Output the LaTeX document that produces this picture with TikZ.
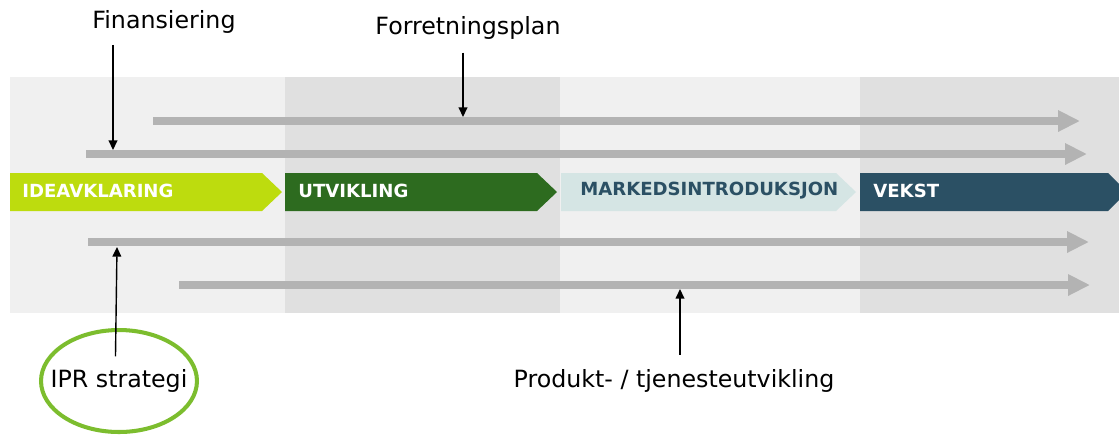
\documentclass[tikz,border=0pt]{standalone}
\usepackage{fontspec}
\setmainfont{DejaVu Sans}
\usetikzlibrary{arrows.meta,shapes.geometric}

\definecolor{bandlys}{HTML}{F0F0F0}
\definecolor{bandmork}{HTML}{E0E0E0}
\definecolor{lime}{HTML}{BDDC0E}
\definecolor{morkgronn}{HTML}{2D6B1F}
\definecolor{lysblaa}{HTML}{D5E5E4}
\definecolor{marine}{HTML}{2B5064}
\definecolor{gralinje}{HTML}{B3B3B3}
\definecolor{ringgronn}{HTML}{7CBD2E}

\begin{document}
\begin{tikzpicture}[x=0.02cm,y=-0.02cm,
  fase/.style={anchor=west,inner sep=0pt,font=\bfseries\fontsize{10.3}{12}\selectfont},
  etikett/.style={font=\fontsize{13.5}{16}\selectfont},
  tidslinje/.style={draw=gralinje,line width=5.1pt,-{Triangle[length=12.5pt,width=11.5pt]}},
  peker/.style={line width=0.8pt,-{Triangle[length=5.5pt,width=5pt]}}]
  \useasboundingbox (0,0) rectangle (1119,434);
  % bakgrunn
  \fill[bandlys]  (10,77)  rectangle (285,313);
  \fill[bandmork] (285,77) rectangle (560,313);
  \fill[bandlys]  (560,77) rectangle (860,313);
  \fill[bandmork] (860,77) rectangle (1119,313);
  % faser
  \fill[lime]      (10,173)  -- (262,173)  -- (282,192)  -- (262,211)  -- (10,211)  -- cycle;
  \fill[morkgronn] (285,173) -- (537,173)  -- (557,192)  -- (537,211)  -- (285,211) -- cycle;
  \fill[lysblaa]   (561,173) -- (836,173)  -- (856,192)  -- (836,211)  -- (561,211) -- cycle;
  \fill[marine]    (860,173) -- (1108,173) -- (1119,184) -- (1119,200) -- (1108,211) -- (860,211) -- cycle;
  \node[fase,text=white]  (ideavklaring) at (22,191)  {IDEAVKLARING};
  \node[fase,text=white]  (utvikling)    at (298,191) {UTVIKLING};
  \node[fase,text=marine] (markeds)      at (580,191) {MARKEDSINTRODUKSJON};
  \node[fase,text=white]  (vekst)        at (873,191) {VEKST};
  % tidslinjer
  \draw[tidslinje] (153,121) -- (1080,121); % forretningsplan
  \draw[tidslinje] (86,154)  -- (1087,154); % finansiering
  \draw[tidslinje] (88,242)  -- (1089,242); % ipr
  \draw[tidslinje] (179,285) -- (1090,285); % produkt
  \coordinate (plan-mal)    at (463,117);
  \coordinate (fin-mal)     at (113,150);
  \coordinate (ipr-mal)     at (117,247);
  \coordinate (produkt-mal) at (680,289);
  % etiketter
  \node[etikett] (finansiering) at (164,22)  {Finansiering};
  \node[etikett] (plan)         at (468,28)  {Forretningsplan};
  \node[etikett] (produkt)      at (674,381) {Produkt- / tjenesteutvikling};
  \node[etikett] (ipr)          at (119,381) {IPR strategi};
  \node[draw=ringgronn,line width=2.3pt,ellipse,inner sep=0pt,
        minimum width=3.12cm,minimum height=2.04cm] (ipr-ring) at (119,381) {};
  % pekere
  \draw[peker,shorten <=3pt] (finansiering.south -| fin-mal) -- (fin-mal);
  \draw[peker,shorten <=4pt] (plan.south -| plan-mal) -- (plan-mal);
  \draw[peker] ([xshift=-2pt,yshift=4pt]ipr.north) -- (ipr-mal);
  \draw[peker,shorten <=5pt] (produkt.north -| produkt-mal) -- (produkt-mal);
\end{tikzpicture}
\end{document}
